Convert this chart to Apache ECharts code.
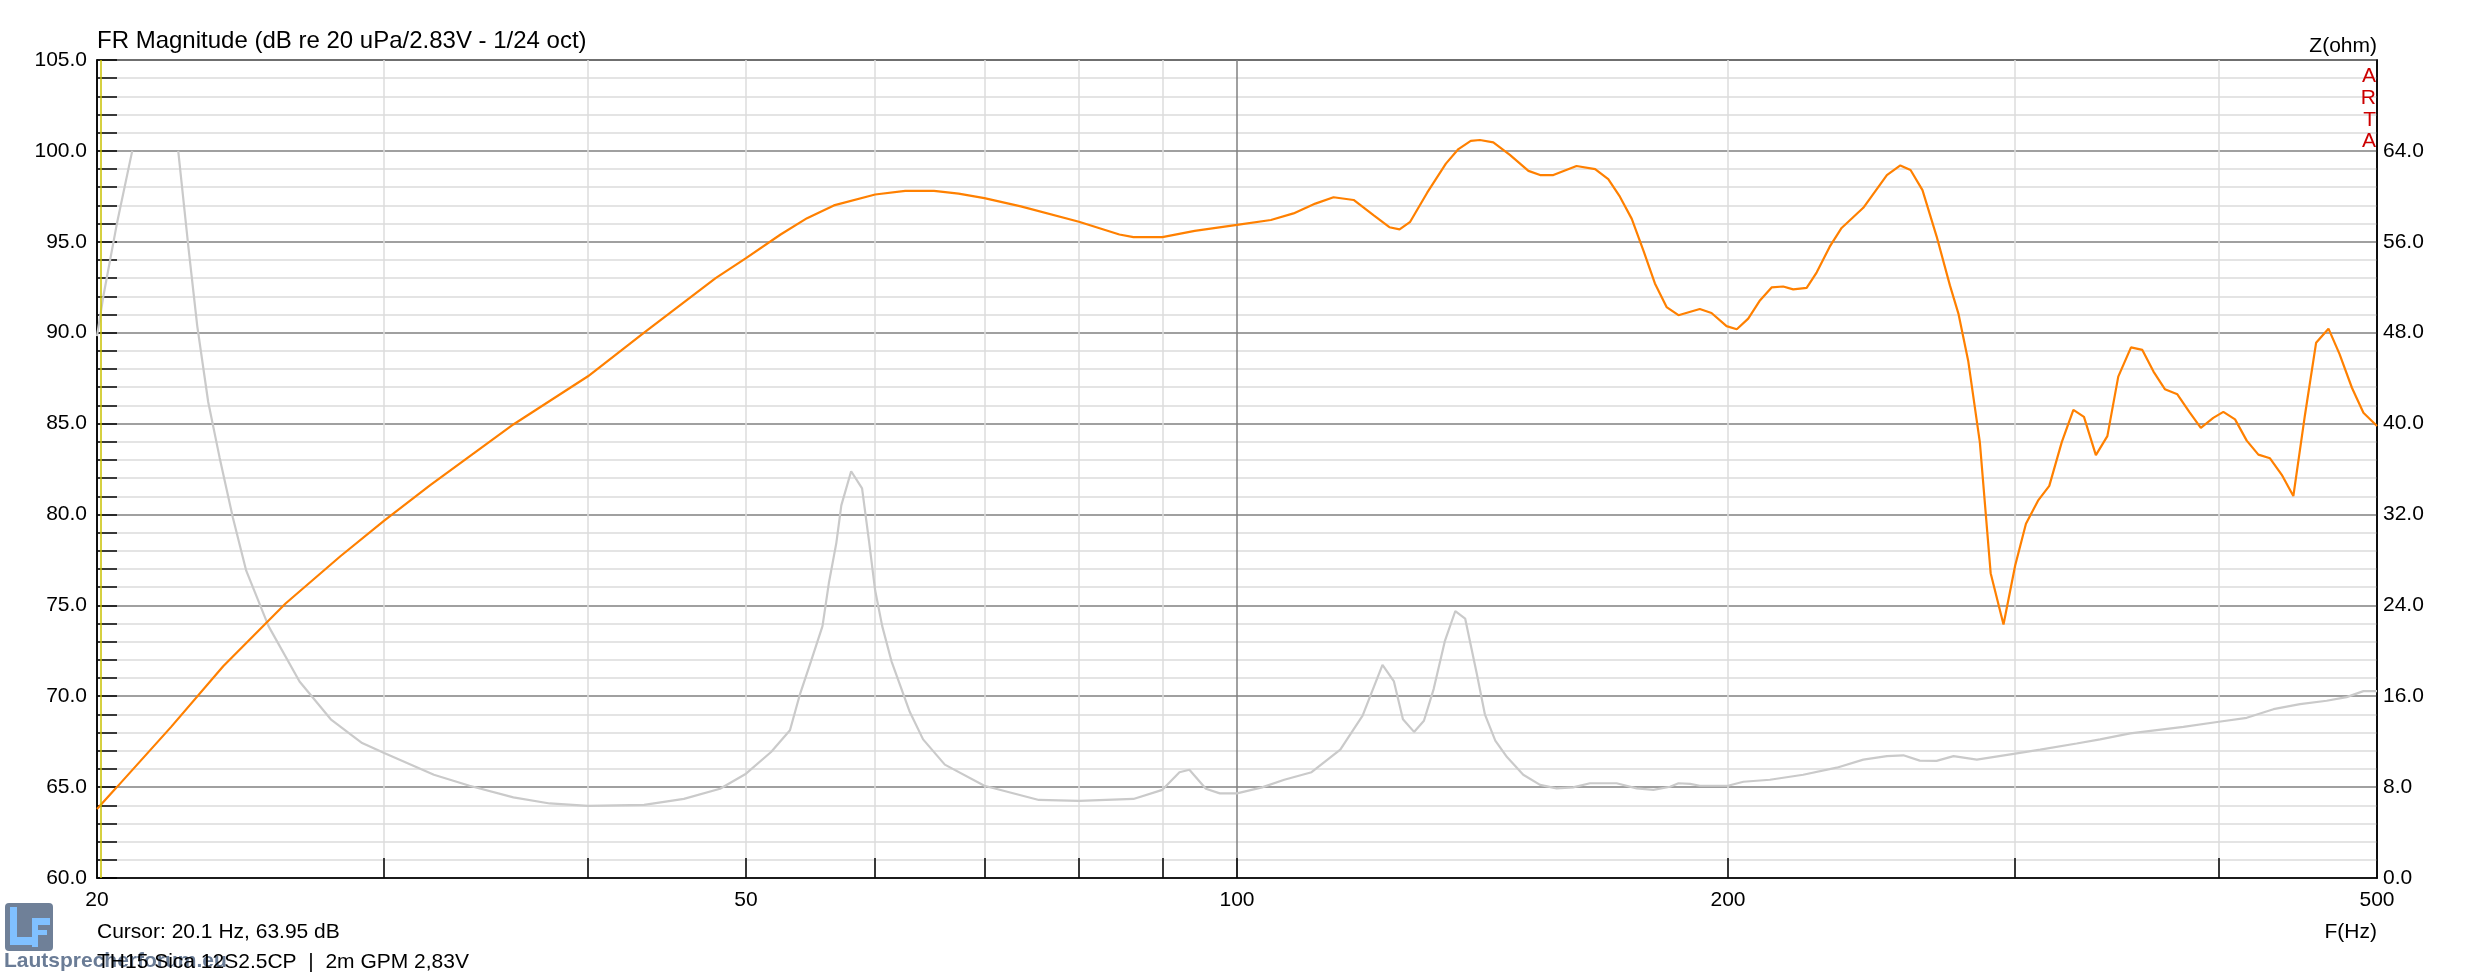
<!DOCTYPE html>
<html>
<head>
    <meta charset="utf-8">
    <title>FR Magnitude</title>
    <script src="https://cdn.jsdelivr.net/npm/echarts@6/dist/echarts.min.js"></script>
    <style>
        html, body { margin: 0; padding: 0; background: #fff; }
    </style>
</head>
<body>
    <div id="main" style="width: 2473px;height:978px;"></div>
    <script type="text/javascript">
        // frequency response (Hz, dB)
        var frFreq = [20.0, 20.57, 22.2, 23.9, 26.1, 28.2, 30.0, 32.0, 36.0, 40.0, 43.3, 47.9, 50.0, 52.5, 54.5, 56.6,
            60.0, 62.6, 65.2, 67.5, 70.0, 73.7, 80.0, 84.7, 86.4, 90.0, 94.2, 100, 104.9, 108.3, 111.7, 114.6,
            117.9, 121.3, 124.0, 125.8, 127.7, 130.8, 134.3, 136.7, 139.1, 140.9, 143.6, 147.0, 150.9, 153.4,
            156.3, 161.5, 165.8, 168.9, 171.7, 174.6, 177.5, 180.4, 183.4, 186.5, 192.2, 195.4, 199.6, 202.5,
            205.8, 209.1, 212.7, 216.2, 219.3, 223.5, 226.7, 230.9, 234.8, 242.1, 250.3, 255.1, 258.8, 263.2,
            268.5, 273.6, 276.9, 280.8, 285.4, 289.8, 295.1, 300, 304.6, 310.0, 314.8, 320.4, 325.7, 330.6,
            336.2, 341.7, 347.0, 353.3, 359.0, 364.7, 370.6, 377.2, 383.6, 389.9, 396.8, 402.5, 409.2, 416.0,
            422.9, 429.9, 437.1, 444.3, 451.7, 458.8, 466.9, 474.2, 482.6, 490.5, 500];
        var frDb = [63.8, 65.0, 68.3, 71.65, 75.1, 77.7, 79.66, 81.6, 84.95, 87.6, 90.0, 93.0, 94.1, 95.4, 96.3, 97.0,
            97.6, 97.8, 97.8, 97.65, 97.4, 96.95, 96.1, 95.4, 95.26, 95.26, 95.6, 95.93, 96.2, 96.56, 97.1, 97.45,
            97.3, 96.45, 95.8, 95.68, 96.1, 97.7, 99.3, 100.1, 100.55, 100.6, 100.47, 99.78, 98.9, 98.67,
            98.67, 99.17, 99.0, 98.45, 97.48, 96.26, 94.51, 92.71, 91.41, 90.96, 91.3, 91.08, 90.36, 90.19,
            90.77, 91.74, 92.49, 92.54, 92.38, 92.46, 93.32, 94.73, 95.76, 96.87, 98.67, 99.2, 98.95, 97.84,
            95.3, 92.6, 91.05, 88.41, 83.98, 76.77, 73.95, 77.19, 79.49, 80.79, 81.57, 83.98, 85.75, 85.37,
            83.26, 84.31, 87.58, 89.19, 89.05, 87.86, 86.89, 86.61, 85.64, 84.76, 85.31, 85.64, 85.23, 84.06,
            83.29, 83.09, 82.18, 81.01, 85.5, 89.44, 90.22, 88.83, 86.97, 85.59, 84.87];

        // impedance (Hz, ohm), '-' = off the scale
        var zFreq = [20.0, 20.18, 20.57, 21.02, 21.7, 22.43, 22.75, 23.04, 23.40, 23.78, 24.23, 24.69, 25.48, 26.62,
            27.82, 29.08, 30.0, 32.18, 33.84, 36.0, 37.9, 40.0, 43.3, 45.8, 48.2, 50.0, 51.8, 53.2, 53.96, 54.8,
            55.7, 56.2, 56.8, 57.2, 58.0, 58.9, 59.5, 60.0, 60.6, 61.4, 63.0, 64.2, 66.2, 70.0, 75.6, 80.0, 86.4,
            90.0, 92.2, 93.5, 95.7, 97.6, 100, 103.6, 106.9, 111.1, 115.7, 119.4, 122.8, 124.8, 126.4, 128.4,
            130.2, 132.0, 134.1, 136.1, 138.0, 140.3, 141.9, 144.0, 146.4, 149.8, 153.4, 157.0, 160.7, 164.6,
            170.9, 175.8, 180.0, 184.3, 186.5, 189.6, 192.2, 200, 204.4, 212.2, 222.4, 233.2, 242.1, 250.3,
            256.2, 262.2, 268.5, 275.0, 284.2, 300, 310.8, 327.2, 338.2, 352.9, 380.4, 400, 416, 432, 448.5,
            465.7, 479, 490.5, 500];
        var zOhm = [47.7, 51.2, 57.6, 64, '-', 64, 55.65, 48.6, 41.9, 37.0, 31.7, 27.05, 22.17, 17.3,
            13.97, 11.88, 11.0, 9.09, 8.12, 7.1, 6.56, 6.34, 6.43, 6.96, 7.85, 9.18, 11.09, 13.0, 16.19, 19.07,
            22.17, 25.94, 29.5, 32.8, 35.8, 34.3, 29.5, 25.3, 22.17, 19.07, 14.63, 12.2, 9.98, 8.12, 6.87, 6.78, 6.96,
            7.76, 9.31, 9.53, 7.85, 7.45, 7.45, 7.98, 8.65, 9.31, 11.3, 14.3, 18.76, 17.3, 13.97, 12.86,
            13.84, 16.63, 20.84, 23.5, 22.84, 17.96, 14.41, 12.1, 10.64, 9.09, 8.2, 7.89, 7.98, 8.34,
            8.34, 7.89, 7.76, 8.03, 8.34, 8.29, 8.12, 8.12, 8.47, 8.65, 9.09, 9.71, 10.42, 10.73,
            10.8, 10.33, 10.31, 10.73, 10.42, 10.95, 11.3, 11.84, 12.2, 12.73, 13.3, 13.75, 14.1, 14.86, 15.3,
            15.6, 15.92, 16.45, 16.45];

        var xLabels = [20, 50, 100, 200, 500];
        var xTicks = [30, 40, 50, 60, 70, 80, 90, 100, 200, 300, 400];
        var cursorFreq = 20.1;

        var pair = function(xs, ys) {
            var res = [];
            for (var i = 0; i < xs.length; i++) {
                res.push([xs[i], ys[i]]);
            }
            return res;
        };

        var FONT = 'Liberation Sans, Arial, sans-serif';
        // grid line colours, 100 Hz is the darker one
        var vGridColors = xTicks.map(function(v) { return v === 100 ? '#808080' : '#dcdcdc'; });

        var myChart = echarts.init(document.getElementById('main'));

        var option = {
            animation: false,
            backgroundColor: '#ffffff',
            grid: {
                left: 97,
                right: 96,
                top: 60,
                bottom: 100,
                show: true,
                borderColor: '#000',
                borderWidth: 1.5,
                backgroundColor: 'transparent'
            },
            xAxis: {
                type: 'log',
                logBase: 10,
                min: 20,
                max: 500,
                axisLine: { show: true, lineStyle: { color: '#000', width: 1.5 } },
                axisTick: {
                    show: true,
                    inside: true,
                    length: 20,
                    customValues: xTicks,
                    lineStyle: { color: '#000', width: 1.5 }
                },
                axisLabel: {
                    customValues: xLabels,
                    color: '#000',
                    fontSize: 21,
                    fontFamily: FONT,
                    margin: 12,
                    formatter: function(v) { return String(Math.round(v)); }
                },
                splitLine: { show: true, lineStyle: { color: vGridColors, width: 1.5 } }
            },
            yAxis: [{
                type: 'value',
                min: 60,
                max: 105,
                interval: 5,
                axisLine: { show: true, lineStyle: { color: '#000', width: 1.5 } },
                axisTick: { show: true, inside: true, length: 20, lineStyle: { color: '#000', width: 1.5 } },
                minorTick: { show: true, splitNumber: 5, length: 20, lineStyle: { color: '#000', width: 1.5 } },
                axisLabel: {
                    color: '#000',
                    fontSize: 21,
                    fontFamily: FONT,
                    margin: 10,
                    formatter: function(v) { return v.toFixed(1); }
                },
                splitLine: { show: true, lineStyle: { color: '#808080', width: 1.5 } },
                minorSplitLine: { show: true, lineStyle: { color: '#dcdcdc', width: 1.5 } }
            }, {
                type: 'value',
                position: 'right',
                min: 0,
                max: 72,
                interval: 8,
                axisLine: { show: true, lineStyle: { color: '#000', width: 1.5 } },
                axisTick: { show: false },
                axisLabel: {
                    color: '#000',
                    fontSize: 21,
                    fontFamily: FONT,
                    margin: 6,
                    showMaxLabel: false,
                    formatter: function(v) { return v.toFixed(1); }
                },
                splitLine: { show: false }
            }],
            series: [{
                type: 'line',
                name: 'Z',
                yAxisIndex: 1,
                data: pair(zFreq, zOhm),
                showSymbol: false,
                connectNulls: false,
                lineStyle: { color: '#cacaca', width: 2.2 },
                itemStyle: { color: '#cacaca' },
                z: 3
            }, {
                type: 'line',
                name: 'FR',
                yAxisIndex: 0,
                data: pair(frFreq, frDb),
                showSymbol: false,
                lineStyle: { color: '#ff8000', width: 2.2 },
                itemStyle: { color: '#ff8000' },
                z: 4,
                markLine: {
                    silent: true,
                    symbol: 'none',
                    label: { show: false },
                    lineStyle: { color: '#c8c000', type: 'solid', width: 1.5 },
                    data: [{ xAxis: cursorFreq }]
                }
            }],
            graphic: [
                { type: 'text', x: 97, y: 41, style: { text: 'FR Magnitude (dB re 20 uPa/2.83V - 1/24 oct)', font: '24px ' + FONT, fill: '#000', align: 'left', verticalAlign: 'middle' } },
                { type: 'text', x: 2377, y: 46, style: { text: 'Z(ohm)', font: '21px ' + FONT, fill: '#000', align: 'right', verticalAlign: 'middle' } },
                { type: 'text', x: 2376, y: 76, z: 10, style: { text: 'A', font: '21px ' + FONT, fill: '#cc0000', align: 'right', verticalAlign: 'middle' } },
                { type: 'text', x: 2376, y: 98, z: 10, style: { text: 'R', font: '21px ' + FONT, fill: '#cc0000', align: 'right', verticalAlign: 'middle' } },
                { type: 'text', x: 2376, y: 120, z: 10, style: { text: 'T', font: '21px ' + FONT, fill: '#cc0000', align: 'right', verticalAlign: 'middle' } },
                { type: 'text', x: 2376, y: 141, z: 10, style: { text: 'A', font: '21px ' + FONT, fill: '#cc0000', align: 'right', verticalAlign: 'middle' } },
                { type: 'text', x: 2377, y: 932, style: { text: 'F(Hz)', font: '21px ' + FONT, fill: '#000', align: 'right', verticalAlign: 'middle' } },
                { type: 'text', x: 97, y: 932, style: { text: 'Cursor: 20.1 Hz, 63.95 dB', font: '21px ' + FONT, fill: '#000', align: 'left', verticalAlign: 'middle' } },
                // logo watermark
                { type: 'rect', shape: { x: 5, y: 903, width: 48, height: 48, r: 4 }, style: { fill: '#6f8098' } },
                { type: 'rect', shape: { x: 10, y: 907, width: 7, height: 38 }, style: { fill: '#80c0ff' } },
                { type: 'rect', shape: { x: 10, y: 937, width: 22, height: 8 }, style: { fill: '#80c0ff' } },
                { type: 'rect', shape: { x: 32, y: 918, width: 6, height: 29 }, style: { fill: '#80c0ff' } },
                { type: 'rect', shape: { x: 32, y: 918, width: 18, height: 7 }, style: { fill: '#80c0ff' } },
                { type: 'rect', shape: { x: 32, y: 930, width: 15, height: 5 }, style: { fill: '#80c0ff' } },
                { type: 'text', x: 4, y: 961, style: { text: 'Lautsprecherforum.eu', font: 'bold 21px ' + FONT, fill: '#6a7c96', align: 'left', verticalAlign: 'middle' } },
                { type: 'text', x: 97, y: 962, style: { text: 'TH15 Sica 12S2.5CP  |  2m GPM 2,83V', font: '21px ' + FONT, fill: '#000', align: 'left', verticalAlign: 'middle' } }
            ]
        };

        myChart.setOption(option);
    </script>
</body>
</html>
